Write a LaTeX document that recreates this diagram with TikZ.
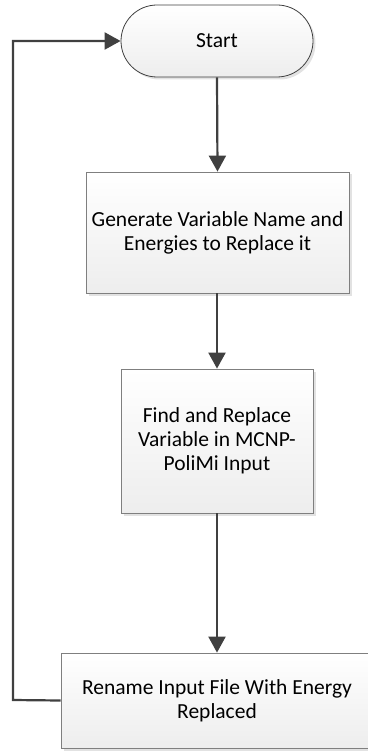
\documentclass[tikz,border=0pt]{standalone}
\usepackage{fontspec}
\setmainfont{Carlito}
\usetikzlibrary{arrows.meta,shadows}
\definecolor{linec}{HTML}{404040}
\definecolor{boxedge}{HTML}{7F7F7F}
\tikzset{
  flow/.style={draw=linec, line width=2.2pt, -{Triangle[length=16pt,width=17pt]}},
  procbox/.style={rectangle, draw=boxedge, line width=0.8pt, top color=white, bottom color=gray!14,
     align=center, font=\fontsize{21.5}{24}\selectfont, inner sep=0pt,
     drop shadow={shadow xshift=2.5pt, shadow yshift=-2.5pt, fill=gray!45, opacity=0.5}},
  termbox/.style={procbox, draw=linec, rounded corners=36pt}
}
\begin{document}
\begin{tikzpicture}[x=1pt,y=-1pt]
\useasboundingbox (0,0) rectangle (367,751);
\node[termbox, minimum width=192pt, minimum height=72pt] (start) at (217,41) {Start};
\node[procbox, minimum width=263pt, minimum height=121pt] (gen) at (217.5,232.5) {Generate Variable Name and\\Energies to Replace it};
\node[procbox, minimum width=192pt, minimum height=144pt] (find) at (217,441) {Find and Replace\\Variable in MCNP-\\PoliMi Input};
\node[procbox, minimum width=312pt, minimum height=95pt] (ren) at (217,700.5) {Rename Input File With Energy\\Replaced};
\coordinate (lb) at (13,700);
\coordinate (lt) at (13,41);
\draw[flow] (start.south) -- (gen.north);
\draw[flow] (gen.south -| find.north) -- (find.north);
\draw[flow] (find.south) -- (ren.north);
\draw[flow] (ren.west) -- (lb) -- (lt) -- (start.west);
\end{tikzpicture}
\end{document}
